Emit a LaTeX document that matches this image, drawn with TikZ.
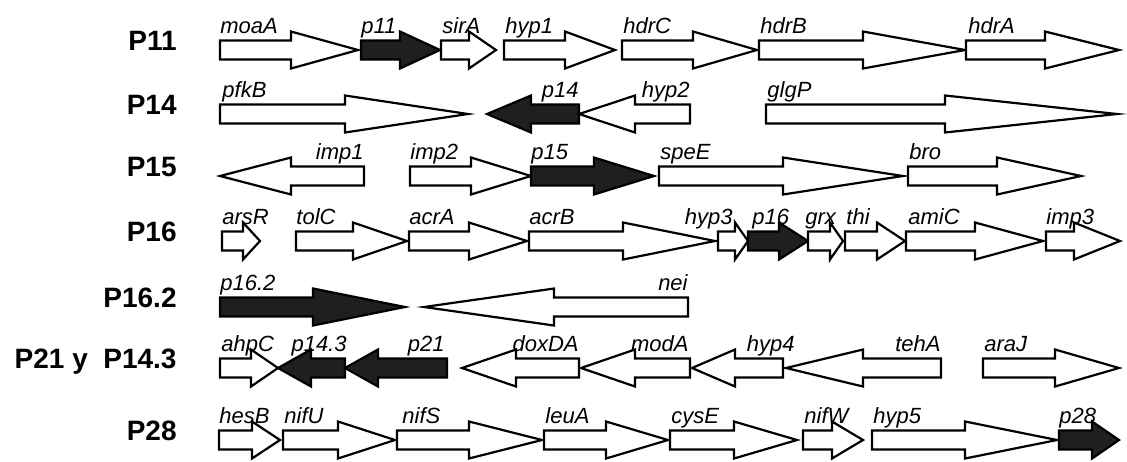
\documentclass[tikz,border=0pt]{standalone}
\usepackage{fontspec}
\setmainfont{Liberation Sans}
\tikzset{
  gene/.style={draw=black, line width=1.1pt, fill=white, line join=miter},
  hit/.style={draw=black, line width=1.1pt, fill=black!88, line join=miter},
  glab/.style={font=\fontsize{11}{11}\selectfont\itshape, inner sep=0pt},
  plab/.style={font=\fontsize{14}{14}\selectfont\bfseries, inner sep=0pt, anchor=base east},
}
\newcommand{\gene}[5]{\draw[#5] (#1,{#4-9.5}) -- (#2,{#4-9.5}) -- (#2,{#4-18.5}) -- (#3,#4) -- (#2,{#4+18.5}) -- (#2,{#4+9.5}) -- (#1,{#4+9.5}) -- cycle;}
\begin{document}
\begin{tikzpicture}[x=0.5pt,y=-0.5pt]
\useasboundingbox (0,0) rectangle (1127,461);
% left labels
\node[plab] (P11) at (177,50) {P11};
\node[plab] (P14) at (177,114) {P14};
\node[plab] (P15) at (177,176) {P15};
\node[plab] (P16) at (177,241) {P16};
\node[plab] (P162) at (177,307) {P16.2};
\node[plab] (P21) at (177,368) {P21 y\ \ P14.3};
\node[plab] (P28) at (177,440) {P28};
% row 1
\gene{220}{291}{358}{50}{gene}
\gene{361}{400}{440}{50}{hit}
\gene{441}{469}{496}{50}{gene}
\gene{504}{565}{615}{50}{gene}
\gene{622}{693}{757}{50}{gene}
\gene{759}{863}{965}{50}{gene}
\gene{966}{1045}{1119}{50}{gene}
\node[glab,anchor=base west] (moaA) at (220,33) {moaA};
\node[glab,anchor=base west] (p11) at (361,33) {p11};
\node[glab,anchor=base west] (sirA) at (442,33) {sirA};
\node[glab,anchor=base west] (hyp1) at (505,33) {hyp1};
\node[glab,anchor=base west] (hdrC) at (623,33) {hdrC};
\node[glab,anchor=base west] (hdrB) at (760,33) {hdrB};
\node[glab,anchor=base west] (hdrA) at (968,33) {hdrA};
% row 2
\gene{220}{345}{468}{114}{gene}
\gene{579}{531}{487}{114}{hit}
\gene{690}{635}{579}{114}{gene}
\gene{766}{945}{1117}{114}{gene}
\node[glab,anchor=base west] (pfkB) at (222,97) {pfkB};
\node[glab,anchor=base east] (p14) at (579,97) {p14};
\node[glab,anchor=base east] (hyp2) at (690,97) {hyp2};
\node[glab,anchor=base west] (glgP) at (767,97) {glgP};
% row 3
\gene{364}{291}{220}{176}{gene}
\gene{410}{471}{531}{176}{gene}
\gene{531}{594}{654}{176}{hit}
\gene{659}{783}{903}{176}{gene}
\gene{908}{997}{1081}{176}{gene}
\node[glab,anchor=base east] (imp1) at (364,159) {imp1};
\node[glab,anchor=base west] (imp2) at (410,159) {imp2};
\node[glab,anchor=base west] (p15) at (531,159) {p15};
\node[glab,anchor=base west] (speE) at (660,159) {speE};
\node[glab,anchor=base west] (bro) at (909,159) {bro};
% row 4
\gene{222}{243}{260}{241}{gene}
\gene{296}{353}{407}{241}{gene}
\gene{409}{469}{527}{241}{gene}
\gene{529}{623}{715}{241}{gene}
\gene{718}{735}{748}{241}{gene}
\gene{748}{779}{808}{241}{hit}
\gene{808}{830}{843}{241}{gene}
\gene{845}{877}{905}{241}{gene}
\gene{906}{975}{1043}{241}{gene}
\gene{1046}{1074}{1120}{241}{gene}
\node[glab,anchor=base west] (arsR) at (222,224) {arsR};
\node[glab,anchor=base west] (tolC) at (296,224) {tolC};
\node[glab,anchor=base west] (acrA) at (409,224) {acrA};
\node[glab,anchor=base west] (acrB) at (529,224) {acrB};
\node[glab,anchor=base east] (hyp3) at (733,224) {hyp3};
\node[glab,anchor=base west] (p16) at (752,224) {p16};
\node[glab,anchor=base west] (grx) at (805,224) {grx};
\node[glab,anchor=base west] (thi) at (846,224) {thi};
\node[glab,anchor=base west] (amiC) at (908,224) {amiC};
\node[glab,anchor=base west] (imp3) at (1046,224) {imp3};
% row 5
\gene{220}{313}{405}{307}{hit}
\gene{688}{554}{424}{307}{gene}
\node[glab,anchor=base west] (p162) at (220,290) {p16.2};
\node[glab,anchor=base east] (nei) at (688,290) {nei};
% row 6
\gene{220}{251}{278}{368}{gene}
\gene{345}{311}{278}{368}{hit}
\gene{447}{378}{345}{368}{hit}
\gene{579}{516}{462}{368}{gene}
\gene{690}{635}{581}{368}{gene}
\gene{783}{735}{692}{368}{gene}
\gene{941}{863}{786}{368}{gene}
\gene{983}{1055}{1119}{368}{gene}
\node[glab,anchor=base west] (ahpC) at (221,351) {ahpC};
\node[glab,anchor=base east] (p143) at (347,351) {p14.3};
\node[glab,anchor=base east] (p21) at (445,351) {p21};
\node[glab,anchor=base east] (doxDA) at (579,351) {doxDA};
\node[glab,anchor=base east] (modA) at (689,351) {modA};
\node[glab,anchor=base east] (hyp4) at (795,351) {hyp4};
\node[glab,anchor=base east] (tehA) at (941,351) {tehA};
\node[glab,anchor=base west] (araJ) at (984,351) {araJ};
% row 7
\gene{219}{252}{280}{440}{gene}
\gene{283}{338}{395}{440}{gene}
\gene{397}{469}{542}{440}{gene}
\gene{544}{606}{668}{440}{gene}
\gene{670}{734}{797}{440}{gene}
\gene{803}{832}{863}{440}{gene}
\gene{872}{965}{1057}{440}{gene}
\gene{1059}{1092}{1119}{440}{hit}
\node[glab,anchor=base west] (hesB) at (219,423) {hesB};
\node[glab,anchor=base west] (nifU) at (284,423) {nifU};
\node[glab,anchor=base west] (nifS) at (402,423) {nifS};
\node[glab,anchor=base west] (leuA) at (545,423) {leuA};
\node[glab,anchor=base west] (cysE) at (671,423) {cysE};
\node[glab,anchor=base west] (nifW) at (804,423) {nifW};
\node[glab,anchor=base west] (hyp5) at (873,423) {hyp5};
\node[glab,anchor=base west] (p28) at (1059,423) {p28};
\end{tikzpicture}
\end{document}
